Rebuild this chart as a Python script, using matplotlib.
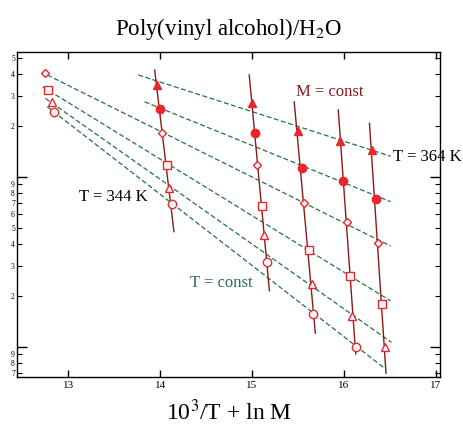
import numpy as np
import matplotlib
matplotlib.use("Agg")
import matplotlib.pyplot as plt
from matplotlib.ticker import LogLocator, FuncFormatter, NullFormatter, FixedLocator

plt.rcParams['font.family'] = ['Liberation Serif', 'DejaVu Serif']
plt.rcParams['mathtext.fontset'] = 'stix'

# measured points, one series per marker type
tri_f_x = [13.96, 15.00, 15.50, 15.96, 16.31]
tri_f_y = [34.6, 27.3, 18.6, 16.3, 14.4]
circ_f_x = [14.00, 15.03, 15.55, 15.99, 16.35]
circ_f_y = [25.1, 18.0, 11.25, 9.43, 7.42]
diam_x = [12.74, 14.02, 15.06, 15.57, 16.03, 16.37]
diam_y = [40.6, 18.0, 11.8, 6.98, 5.41, 4.06]
sq_x = [12.78, 14.07, 15.11, 15.62, 16.07, 16.42]
sq_y = [32.4, 11.7, 6.72, 3.73, 2.62, 1.78]
tri_o_x = [12.82, 14.10, 15.13, 15.65, 16.09, 16.45]
tri_o_y = [27.6, 8.61, 4.54, 2.35, 1.52, 1.00]
circ_o_x = [12.84, 14.13, 15.16, 15.67, 16.13]
circ_o_y = [24.0, 6.88, 3.16, 1.56, 1.00]

# M = const lines (start / end)
m_x0 = [13.94, 14.97, 15.46, 15.94, 16.28]
m_y0 = [42.4, 39.7, 27.6, 24.7, 20.6]
m_x1 = [14.15, 15.19, 15.69, 16.13, 16.46]
m_y1 = [4.75, 2.13, 1.20, 0.906, 0.698]

# T = const lines (start / end)
t_x0 = [13.76, 13.83, 12.77, 12.72, 12.75, 12.77]
t_y0 = [39.7, 27.6, 39.7, 33.8, 28.9, 25.8]
t_x1 = [16.51, 16.51, 16.51, 16.51, 16.52, 16.46]
t_y1 = [13.2, 7.13, 3.91, 1.86, 1.06, 0.736]

red = '#E8262B'
dark_red = '#8B1A1A'
green = '#237347'

fig = plt.figure(figsize=(4.64, 4.26), dpi=100)
ax = fig.add_axes([0.0366, 0.115, 0.912, 0.763])
ax.set_yscale('log')

for i in range(len(t_x0)):
    ax.plot([t_x0[i], t_x1[i]], [t_y0[i], t_y1[i]], color=green, lw=0.9,
            linestyle=(0, (4, 2)), zorder=1)
for i in range(len(m_x0)):
    ax.plot([m_x0[i], m_x1[i]], [m_y0[i], m_y1[i]], color=dark_red, lw=1.0, zorder=2)

ms = 6
ax.plot(tri_f_x, tri_f_y, '^', color=red, ms=ms, mec=red, ls='none', zorder=3)
ax.plot(circ_f_x, circ_f_y, 'o', color=red, ms=ms, mec=red, ls='none', zorder=3)
ax.plot(diam_x, diam_y, 'D', mfc='white', mec=red, mew=1.0, ms=4.3, ls='none', zorder=3)
ax.plot(sq_x, sq_y, 's', mfc='white', mec=red, mew=1.0, ms=ms, ls='none', zorder=3)
ax.plot(tri_o_x, tri_o_y, '^', mfc='white', mec=red, mew=1.0, ms=ms, ls='none', zorder=3)
ax.plot(circ_o_x, circ_o_y, 'o', mfc='white', mec=red, mew=1.0, ms=ms, ls='none', zorder=3)

ax.text(15.85, 31.5, 'M = const', color=dark_red, fontsize=12, ha='center', va='center')
ax.text(16.54, 13.1, 'T = 364 K', color='black', fontsize=12, ha='left', va='center')
ax.text(13.12, 7.57, 'T = 344 K', color='black', fontsize=12, ha='left', va='center')
ax.text(14.33, 2.36, 'T = const', color=green, fontsize=12, ha='left', va='center')

ax.set_xlim(12.44, 17.05)
ax.set_ylim(0.663, 54.2)

ax.xaxis.set_major_locator(FixedLocator([13, 14, 15, 16, 17]))
ax.tick_params(axis='x', which='major', direction='in', length=5, width=1,
               top=True, labelsize=8, pad=3)
ax.yaxis.set_major_locator(LogLocator(base=10))
ax.yaxis.set_minor_locator(LogLocator(base=10, subs=range(2, 10)))
ax.yaxis.set_major_formatter(NullFormatter())
ax.yaxis.set_minor_formatter(FuncFormatter(
    lambda v, pos: str(int(round(v / 10 ** np.floor(np.log10(v) + 1e-9))))))
ax.tick_params(axis='y', which='major', direction='in', length=7, width=1, right=True)
ax.tick_params(axis='y', which='minor', direction='in', length=3.5, width=0.8,
               right=True, labelsize=5.5, pad=1.5)

for s in ax.spines.values():
    s.set_linewidth(1.0)

ax.set_title('Poly(vinyl alcohol)/H$_2$O', fontsize=16.5, pad=12)
ax.set_xlabel('10$^3$/T + ln M', fontsize=17, labelpad=7)

fig.savefig('out.png', dpi=100)
